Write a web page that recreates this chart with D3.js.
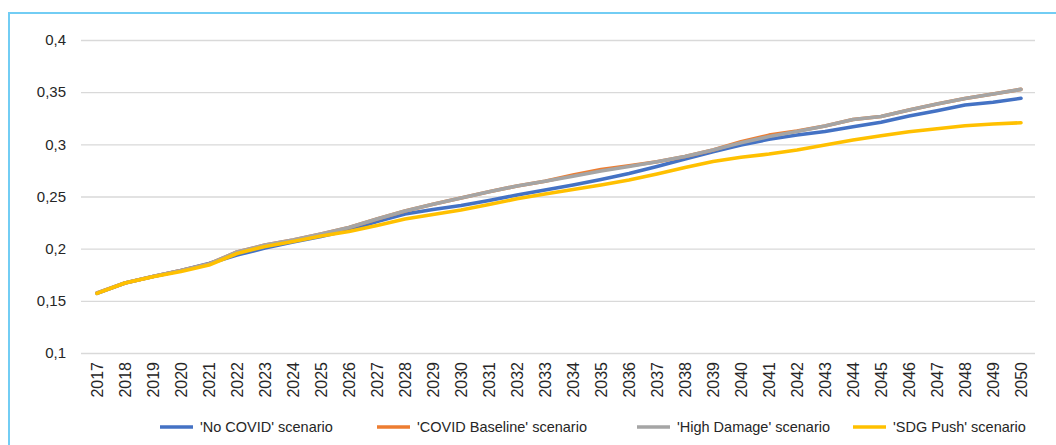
<!DOCTYPE html>
<html>
<head>
<meta charset="utf-8">
<script src="https://cdn.jsdelivr.net/npm/d3@7"></script>
<style>
  body { margin: 0; background: #fff; }
  svg text { font-family: "Liberation Sans", Arial, sans-serif; fill: #262626; }
</style>
</head>
<body>
<div id="chart"></div>
<script>
var svgWidth = 1056;
var svgHeight = 445;

// data
var years = d3.range(2017, 2051).map(String);

var noCovid = [0.1572, 0.1671, 0.1733, 0.1791, 0.1858, 0.1939, 0.2006, 0.2064, 0.2117, 0.2179,
  0.2260, 0.2332, 0.2375, 0.2414, 0.2462, 0.2514, 0.2562, 0.2610, 0.2663, 0.2720,
  0.2787, 0.2859, 0.2928, 0.2993, 0.3048, 0.3089, 0.3123, 0.3169, 0.3211, 0.3271,
  0.3322, 0.3377, 0.3403, 0.3441];

var covidBaseline = [0.1575, 0.1671, 0.1733, 0.1791, 0.1853, 0.1968, 0.2035, 0.2083, 0.2141, 0.2203,
  0.2284, 0.2361, 0.2425, 0.2486, 0.2545, 0.2601, 0.2647, 0.2705, 0.2758, 0.2795,
  0.2833, 0.2883, 0.2946, 0.3025, 0.3088, 0.3128, 0.3176, 0.3238, 0.3267, 0.3329,
  0.3386, 0.3439, 0.3482, 0.3527];

var highDamage = [0.1575, 0.1671, 0.1733, 0.1791, 0.1853, 0.1968, 0.2035, 0.2083, 0.2141, 0.2203,
  0.2284, 0.2361, 0.2425, 0.2486, 0.2545, 0.2601, 0.2647, 0.2694, 0.2744, 0.2787,
  0.2833, 0.2883, 0.2946, 0.3016, 0.3075, 0.3123, 0.3176, 0.3238, 0.3267, 0.3329,
  0.3386, 0.3439, 0.3482, 0.3527];

var sdgPush = [0.1572, 0.1671, 0.1731, 0.1781, 0.1843, 0.1954, 0.2021, 0.2069, 0.2121, 0.2164,
  0.2222, 0.2284, 0.2327, 0.2371, 0.2423, 0.2478, 0.2524, 0.2567, 0.2610, 0.2658,
  0.2716, 0.2778, 0.2835, 0.2876, 0.2907, 0.2946, 0.2994, 0.3041, 0.3083, 0.3121,
  0.3150, 0.3178, 0.3195, 0.3207];

var yTicks = [0.1, 0.15, 0.2, 0.25, 0.3, 0.35, 0.4];

var seriesNames = ["'No COVID' scenario", "'COVID Baseline' scenario", "'High Damage' scenario", "'SDG Push' scenario"];
var seriesColors = ["#4472C4", "#ED7D31", "#A5A5A5", "#FFC000"];
var seriesValues = [noCovid, covidBaseline, highDamage, sdgPush];

var svg = d3.select("#chart")
  .append("svg")
  .attr("width", svgWidth)
  .attr("height", svgHeight);

// light blue frame (left and top)
svg.append("path")
  .attr("d", "M9,445 L9,13 L1056,13")
  .attr("fill", "none")
  .attr("stroke", "#72CDF4")
  .attr("stroke-width", 2);

var xScale = d3.scaleBand()
  .domain(years)
  .range([83, 1035]);

var yScale = d3.scaleLinear()
  .domain([0.1, 0.4])
  .range([353, 40]);

var fmt = function(d) { return String(+d.toFixed(2)).replace(".", ","); };

// gridlines + y labels
var yAxis = svg.append("g")
  .attr("transform", "translate(83,0)")
  .call(d3.axisLeft(yScale).tickValues(yTicks).tickFormat(fmt).tickSize(0).tickPadding(17));
yAxis.select(".domain").remove();
yAxis.selectAll("text").style("font-size", "15px").attr("fill", "#262626");
yAxis.selectAll(".tick").append("line")
  .attr("x1", -2)
  .attr("x2", 952)
  .attr("stroke", "#D9D9D9")
  .attr("stroke-width", 1.3);

// x labels
var xAxis = svg.append("g")
  .attr("transform", "translate(0,353)")
  .call(d3.axisBottom(xScale).tickSize(0).tickPadding(0));
xAxis.select(".domain").remove();
xAxis.selectAll("text")
  .style("font-size", "16px")
  .attr("fill", "#262626")
  .attr("text-anchor", "end")
  .attr("transform", "rotate(-90)")
  .attr("x", -9)
  .attr("y", 0)
  .attr("dy", "0.36em");

// lines
var line = d3.line()
  .x(function(d, i) { return xScale(years[i]) + xScale.bandwidth() / 2; })
  .y(function(d) { return yScale(d); });

seriesValues.forEach(function(vals, k) {
  svg.append("path")
    .datum(vals)
    .attr("fill", "none")
    .attr("stroke", seriesColors[k])
    .attr("stroke-width", 3.6)
    .attr("stroke-linejoin", "round")
    .attr("stroke-linecap", "round")
    .attr("d", line);
});

// legend
var legendX = [160, 377, 637, 853];
var legend = svg.append("g").attr("transform", "translate(0,427)");
seriesNames.forEach(function(name, k) {
  legend.append("line")
    .attr("x1", legendX[k])
    .attr("x2", legendX[k] + 33)
    .attr("stroke", seriesColors[k])
    .attr("stroke-width", 3.5);
  legend.append("text")
    .attr("x", legendX[k] + 40)
    .attr("dy", "0.35em")
    .style("font-size", "14.5px")
    .text(name);
});
</script>
</body>
</html>
